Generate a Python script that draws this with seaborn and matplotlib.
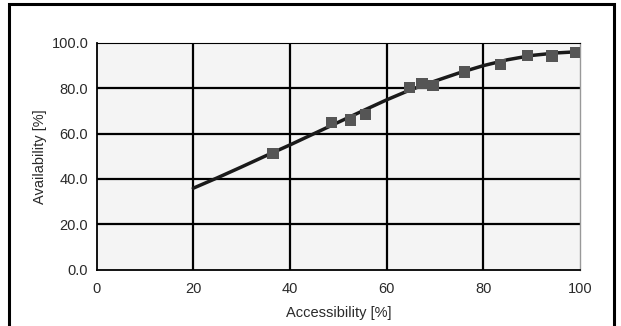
import matplotlib
matplotlib.use("Agg")
import matplotlib.pyplot as plt
import seaborn as sns
import pandas as pd
from matplotlib.patches import Rectangle

# Measured points
access_pts = [36.5, 48.6, 52.6, 55.6, 64.7, 67.3, 69.6, 76.1, 83.5, 89.2, 94.2, 99.1]
avail_pts = [51.3, 64.8, 66.0, 68.5, 80.3, 82.2, 81.2, 87.2, 90.6, 94.4, 94.3, 95.9]

# Trend curve
curve_x = [20, 25, 30, 35, 40, 45, 50, 55, 60, 65, 70, 75, 80, 85, 90, 95, 100]
curve_y = [35.9, 40.5, 45.3, 50.2, 55.0, 60.0, 65.0, 70.0, 74.9, 79.4, 83.2,
           86.8, 90.0, 92.6, 94.5, 95.6, 96.2]

x_ticks = [0, 20, 40, 60, 80, 100]
y_ticks = [0, 20, 40, 60, 80, 100]
y_tick_labels = ["0.0", "20.0", "40.0", "60.0", "80.0", "100.0"]

sns.set_style("white")
plt.rcParams['font.family'] = ['Liberation Sans', 'DejaVu Sans']

fig = plt.figure(figsize=(6.21, 3.26), dpi=100)
ax = fig.add_axes([96.6 / 621, (326 - 269.5) / 326, (580 - 96.6) / 621, (269.5 - 43) / 326])
ax.set_facecolor("#f4f4f4")

pts = pd.DataFrame({"x": access_pts, "y": avail_pts})
cur = pd.DataFrame({"x": curve_x, "y": curve_y})

ax.set_xlim(0, 100)
ax.set_ylim(0, 100)
for v in [20, 40, 60, 80]:
    ax.axhline(v, color="black", lw=1.6, zorder=1)
    ax.axvline(v, color="black", lw=1.6, zorder=1)

sns.lineplot(data=cur, x="x", y="y", ax=ax, color="#1a1a1a", lw=2.5, zorder=3,
             estimator=None, sort=True)
sns.scatterplot(data=pts, x="x", y="y", ax=ax, marker="s", s=65, color="#555555",
                edgecolor="none", zorder=4)

ax.set_xticks(x_ticks)
ax.set_yticks(y_ticks)
ax.set_yticklabels(y_tick_labels)
ax.tick_params(axis="both", direction="out", length=4, width=1.3, color="black",
               labelsize=10.5, labelcolor="#2a2a2a", pad=2)
ax.tick_params(axis="x", pad=5)
ax.set_xlabel("Accessibility [%]", fontsize=10.5, color="#2a2a2a", labelpad=7)
ax.set_ylabel("Availability [%]", fontsize=10.5, color="#2a2a2a", labelpad=3)

ax.spines["left"].set_color("black")
ax.spines["left"].set_linewidth(1.3)
ax.spines["bottom"].set_color("black")
ax.spines["bottom"].set_linewidth(1.3)
ax.spines["top"].set_color("black")
ax.spines["top"].set_linewidth(0.8)
ax.spines["right"].set_color("#999999")
ax.spines["right"].set_linewidth(1.0)

# Figure frame
fig.patches.append(Rectangle((9 / 621, -0.05), (614 - 9) / 621, 1.05 - 4 / 326,
                             transform=fig.transFigure, fill=False,
                             edgecolor="black", lw=2.2))

fig.savefig("out.png", dpi=100)
